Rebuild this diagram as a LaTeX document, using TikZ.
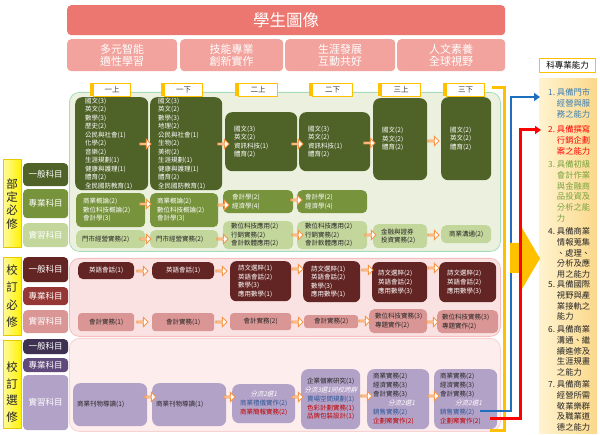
\documentclass[tikz,border=0pt]{standalone}
\usepackage{fontspec}
\setmainfont{Noto Sans CJK TC}
\newfontfamily\slfont{Noto Sans CJK TC}[FakeSlant=0.25]
\usetikzlibrary{shapes.arrows,arrows.meta}
\definecolor{hdrred}{HTML}{EC7770}
\definecolor{subred}{HTML}{F2A39D}
\definecolor{ggd}{HTML}{4F6228}
\definecolor{ggm}{HTML}{77933C}
\definecolor{ggl}{HTML}{C3D69B}
\definecolor{gpan}{HTML}{EBF1DE}
\definecolor{gpanb}{HTML}{A6DDB8}
\definecolor{rrd}{HTML}{632523}
\definecolor{rrm}{HTML}{953735}
\definecolor{rrl}{HTML}{D99694}
\definecolor{rpan}{HTML}{FBE2E2}
\definecolor{rpanb}{HTML}{F5BDBD}
\definecolor{rpantwo}{HTML}{FDEDED}
\definecolor{rpantwob}{HTML}{F8D3D3}
\definecolor{ppd}{HTML}{3F3151}
\definecolor{ppm}{HTML}{604A7B}
\definecolor{ppl}{HTML}{B3A2C7}
\definecolor{ybar}{HTML}{FFF200}
\definecolor{ybarl}{HTML}{FFFA99}
\definecolor{ybarb}{HTML}{E8C800}
\definecolor{ytab}{HTML}{FFC000}
\definecolor{arrorg}{HTML}{F79646}
\definecolor{ablue}{HTML}{1F6FBF}
\definecolor{ared}{HTML}{FF0000}
\definecolor{tblue}{HTML}{2F5597}
\definecolor{tred}{HTML}{C00000}
\definecolor{kblue}{HTML}{3A7DB5}
\definecolor{kgreen}{HTML}{76A33F}
\definecolor{kdark}{HTML}{262626}
\definecolor{colL}{HTML}{FFF3CF}
\definecolor{colR}{HTML}{FBD88A}
\tikzset{
  bx/.style={rounded corners=5pt, inner sep=0pt, anchor=north west, draw=none},
  tt/.style={inner sep=0pt, align=left, font=\fontsize{6.5}{8.5}\selectfont},
  ttn/.style={inner sep=0pt, align=left, font=\fontsize{6.5}{9}\selectfont},
  wt/.style={tt, text=white},
  dk/.style={tt, text=kdark},
  cat/.style={bx, rounded corners=4pt, text=white, font=\fontsize{8.5}{10}\selectfont},
  vbar/.style={bx, rounded corners=0pt, left color=ybarl, right color=ybar, draw=ybarb, line width=0.8pt},
  vtxt/.style={inner sep=0pt, align=center, text=kdark},
  tabbox/.style={bx, rounded corners=0pt, fill=white, draw=ytab, line width=1pt, font=\fontsize{7.5}{9}\selectfont, text=black!75},
  barrow/.style={single arrow, draw=arrorg, fill=white, line width=0.9pt, minimum height=11pt, minimum width=9pt, single arrow head extend=2pt, inner sep=0pt},
  klist/.style={inner sep=0pt, align=left, anchor=north west, font=\fontsize{8.3}{10.7}\selectfont},
  sub/.style={bx, rounded corners=4pt, fill=subred, text=white, align=center, font=\fontsize{11}{12.5}\selectfont},
}
\newcommand\mkbox[6]{\node[#1, minimum width={#4-#2}, minimum height={#5-#3}] (#6) at (#2,#3) {};}
\newcommand\mkboxc[7]{\node[#1, minimum width={#4-#2}, minimum height={#5-#3}, align=center] (#6) at (#2,#3) {#7};}
\newcommand\mktxt[5]{\node[#1, anchor=west] (#2) at (#3,0 |- #4.center) {#5};}
\newcommand\mktab[4]{\fill[ytab] ({#1-3},83) rectangle (#2,96);
  \node[tabbox, minimum width={#2-#1}, minimum height=13] (#3) at (#1,83) {#4};}
\begin{document}
\begin{tikzpicture}[x=1pt,y=-1pt]
\useasboundingbox (0,0) rectangle (600,435);
% header
\node[bx, rounded corners=4pt, fill=hdrred, minimum width=438, minimum height=30, text=white, font=\fontsize{16.5}{18}\selectfont] (title) at (67,5) {學生圖像};
\mkboxc{sub}{67}{39}{177}{71}{h1}{多元智能\\適性學習}
\mkboxc{sub}{180}{39}{283}{71}{h2}{技能專業\\創新實作}
\mkboxc{sub}{285}{39}{395}{71}{h3}{生涯發展\\互動共好}
\mkboxc{sub}{397}{39}{505}{71}{h4}{人文素養\\全球視野}
% panels
\mkbox{bx, rounded corners=10pt, fill=gpan, draw=gpanb, line width=0.8pt}{69}{92}{500}{251}{pan1}
\mkbox{bx, rounded corners=10pt, fill=rpan, draw=rpanb, line width=0.8pt}{69}{258}{500}{336}{pan2}
\mkbox{bx, rounded corners=10pt, fill=rpantwo, draw=rpantwob, line width=0.8pt}{69}{338}{500}{431}{pan3}
% vertical bars
\mkbox{vbar}{3}{159}{21}{247}{vb1}
\node[vtxt, font=\fontsize{11.5}{13.3}\selectfont] (vt1) at (12,203.7) {部\\定\\必\\修};
\mkbox{vbar}{3}{257}{21}{335}{vb2}
\node[vtxt, font=\fontsize{11.5}{17.3}\selectfont] (vt2) at (12,296) {校\\訂\\必\\修};
\mkbox{vbar}{3}{340}{21}{428}{vb3}
\node[vtxt, font=\fontsize{11.5}{16.8}\selectfont] (vt3) at (12,392) {校\\訂\\選\\修};
% category labels
\mkboxc{cat, fill=ggd}{23}{163}{68}{186}{c11}{一般科目}
\mkboxc{cat, fill=ggm}{23}{189}{68}{218}{c12}{專業科目}
\mkboxc{cat, fill=ggl}{23}{223}{68}{247}{c13}{實習科目}
\mkboxc{cat, fill=rrd}{23}{257}{68}{282}{c21}{一般科目}
\mkboxc{cat, fill=rrm}{23}{287}{68}{305}{c22}{專業科目}
\mkboxc{cat, fill=rrl}{23}{310}{68}{333}{c23}{實習科目}
\mkboxc{cat, fill=ppd}{23}{339}{68}{354}{c31}{一般科目}
\mkboxc{cat, fill=ppm}{23}{358}{68}{372}{c32}{專業科目}
\mkboxc{cat, fill=ppl}{23}{375}{68}{430}{c33}{實習科目}
% tabs
\mktab{93}{130}{t1}{一上}
\mktab{164}{202}{t2}{一下}
\mktab{238}{277}{t3}{二上}
\mktab{312}{352}{t4}{二下}
\mktab{381}{420}{t5}{三上}
\mktab{446}{484}{t6}{三下}
% 部定 general
\mkbox{bx, rounded corners=7pt, fill=ggd}{75}{97}{148}{190}{g1}
\mktxt{wt}{g1t}{85}{g1}{國文(3)\\英文(2)\\數學(3)\\歷史(2)\\公民與社會(1)\\化學(2)\\音樂(2)\\生涯規劃(1)\\健康與護理(1)\\體育(2)\\全民國防教育(1)}
\mkbox{bx, rounded corners=7pt, fill=ggd}{150}{97}{222}{190}{g2}
\mktxt{wt}{g2t}{158}{g2}{國文(3)\\英文(2)\\數學(3)\\地理(2)\\公民與社會(1)\\生物(2)\\美術(2)\\生涯規劃(1)\\健康與護理(1)\\體育(2)\\全民國防教育(1)}
\mkbox{bx, rounded corners=7pt, fill=ggd}{225}{112}{297}{171}{g3}
\mktxt{wt}{g3t}{234}{g3}{國文(3)\\英文(2)\\資訊科技(1)\\體育(2)}
\mkbox{bx, rounded corners=7pt, fill=ggd}{299}{112}{370}{171}{g4}
\mktxt{wt}{g4t}{308}{g4}{國文(3)\\英文(2)\\資訊科技(1)\\體育(2)}
\mkbox{bx, rounded corners=7pt, fill=ggd}{373}{98}{427}{180}{g5}
\mktxt{wt}{g5t}{382}{g5}{國文(2)\\英文(2)\\體育(2)}
\mkbox{bx, rounded corners=7pt, fill=ggd}{441}{97}{491}{180}{g6}
\mktxt{wt}{g6t}{450}{g6}{國文(2)\\英文(2)\\體育(2)}
% 部定 professional
\mkbox{bx, fill=ggm}{76}{193}{145}{227}{p1}
\mktxt{wt}{p1t}{83}{p1}{商業概論(2)\\數位科技概論(2)\\會計學(3)}
\mkbox{bx, fill=ggm}{150}{193}{218}{227}{p2}
\mktxt{wt}{p2t}{157}{p2}{商業概論(2)\\數位科技概論(2)\\會計學(3)}
\mkbox{bx, fill=ggm}{223}{190}{293}{213}{p3}
\mktxt{wt}{p3t}{232}{p3}{會計學(2)\\經濟學(4)}
\mkbox{bx, fill=ggm}{297}{190}{367}{213}{p4}
\mktxt{wt}{p4t}{305}{p4}{會計學(2)\\經濟學(4)}
% 部定 practice
\mkbox{bx, fill=ggl}{76}{230}{145}{248}{s1}
\mktxt{dk}{s1t}{82}{s1}{門市經營實務(2)}
\mkbox{bx, fill=ggl}{150}{230}{218}{248}{s2}
\mktxt{dk}{s2t}{156}{s2}{門市經營實務(2)}
\mkbox{bx, fill=ggl}{223}{221}{293}{249}{s3}
\mktxt{dk}{s3t}{231}{s3}{數位科技應用(2)\\行銷實務(2)\\會計軟體應用(2)}
\mkbox{bx, fill=ggl}{297}{221}{367}{249}{s4}
\mktxt{dk}{s4t}{305}{s4}{數位科技應用(2)\\行銷實務(2)\\會計軟體應用(2)}
\mkbox{bx, fill=ggl}{373}{224}{427}{248}{s5}
\mktxt{dk}{s5t}{381}{s5}{金融與證券\\投資實務(2)}
\mkboxc{bx, fill=ggl, font=\fontsize{6.5}{8.5}\selectfont, text=kdark}{441}{225}{491}{243}{s6}{商業溝通(2)}
% 校訂必修 general
\mkboxc{bx, fill=rrd, font=\fontsize{6.5}{8.5}\selectfont, text=white}{78}{262}{134}{279}{r1}{英語會話(1)}
\mkboxc{bx, fill=rrd, font=\fontsize{6.5}{8.5}\selectfont, text=white}{152}{262}{214}{279}{r2}{英語會話(1)}
\mkbox{bx, rounded corners=6pt, fill=rrd}{230}{261}{291}{301}{r3}
\mktxt{wt}{r3t}{238}{r3}{詩文選粹(1)\\英語會話(2)\\數學(3)\\應用數學(1)}
\mkbox{bx, rounded corners=6pt, fill=rrd}{303}{261}{360}{302}{r4}
\mktxt{wt}{r4t}{311}{r4}{詩文選粹(1)\\英語會話(2)\\數學(3)\\應用數學(1)}
\mkbox{bx, rounded corners=6pt, fill=rrd}{372}{262}{427}{302}{r5}
\mktxt{ttn, text=white}{r5t}{378}{r5}{詩文選粹(2)\\英語會話(2)\\應用數學(3)}
\mkbox{bx, rounded corners=6pt, fill=rrd}{439}{262}{496}{302}{r6}
\mktxt{ttn, text=white}{r6t}{447}{r6}{詩文選粹(2)\\英語會話(2)\\應用數學(3)}
% 校訂必修 practice
\mkboxc{bx, rounded corners=3pt, fill=rrl, font=\fontsize{6.5}{8.5}\selectfont, text=kdark}{78}{313}{134}{331}{q1}{會計實務(1)}
\mkboxc{bx, rounded corners=3pt, fill=rrl, font=\fontsize{6.5}{8.5}\selectfont, text=kdark}{152}{313}{214}{331}{q2}{會計實務(1)}
\mkboxc{bx, rounded corners=3pt, fill=rrl, font=\fontsize{6.5}{8.5}\selectfont, text=kdark}{230}{313}{291}{330}{q3}{會計實務(2)}
\mkboxc{bx, rounded corners=3pt, fill=rrl, font=\fontsize{6.5}{8.5}\selectfont, text=kdark}{304}{315}{358}{328}{q4}{會計實務(2)}
\mkbox{bx, fill=rrl}{369}{309}{427}{333}{q5}
\mktxt{ttn, text=kdark}{q5t}{375}{q5}{數位科技實務(3)\\專題實作(2)}
\mkbox{bx, fill=rrl}{437}{310}{498}{333}{q6}
\mktxt{ttn, text=kdark}{q6t}{442}{q6}{數位科技實務(3)\\專題實作(2)}
% 校訂選修 practice
\mkbox{bx, rounded corners=7pt, fill=ppl}{73}{383}{147}{426}{e1}
\mktxt{dk}{e1t}{77}{e1}{商業刊物導讀(1)}
\mkbox{bx, rounded corners=7pt, fill=ppl}{152}{383}{226}{426}{e2}
\mktxt{dk}{e2t}{156}{e2}{商業刊物導讀(1)}
\mkboxc{bx, rounded corners=7pt, fill=ppl, font=\fontsize{6.5}{9}\selectfont, text=kdark}{232}{384}{295}{423}{e3}{{\slfont\color{white}分流2選1}\\\textcolor{tblue}{商業禮儀實作(2)}\\\textcolor{tred}{商業簡報實務(2)}}
\mkboxc{bx, rounded corners=7pt, fill=ppl, font=\fontsize{6.5}{8.8}\selectfont, text=kdark}{301}{369}{360}{429}{e4}{企業個案研究(1)\\{\slfont\color{white}分流3選1同校跨群}\\\textcolor{tblue}{賣場空間規劃(1)}\\\textcolor{tred}{色彩計劃實務(1)}\\\textcolor{tred}{品牌包裝設計(1)}}
\mkbox{bx, rounded corners=7pt, fill=ppl}{367}{369}{429}{429}{e5}
\mktxt{ttn, text=kdark}{e5t}{373}{e5}{商業實務(2)\\經濟實務(3)\\會計實務(3)\\\hspace*{15pt}{\slfont\color{white}分流2選1}\\\textcolor{tblue}{銷售實務(2)}\\\textcolor{tred}{企劃案實作(2)}}
\mkbox{bx, rounded corners=7pt, fill=ppl}{434}{369}{497}{429}{e6}
\mktxt{ttn, text=kdark}{e6t}{440}{e6}{商業實務(2)\\經濟實務(3)\\會計實務(3)\\\hspace*{15pt}{\slfont\color{white}分流2選1}\\\textcolor{tblue}{銷售實務(2)}\\\textcolor{tred}{企劃案實作(2)}}
% block arrows
\foreach \n/\x/\y in {a11/145/144,a12/223/144,a13/297/144,a14/369/143,a15/433/141,
  a21/145/204,a22/223/205,a23/296/200,
  a31/145/239,a32/222/239,a33/297/235,a34/370/235,a35/433/235,
  b11/142/271,b12/221/271,b13/297/269,b14/367/270,b15/433/268,
  b31/142/322,b32/221/322,b33/297/322,b34/364/321,b35/432/322,
  c31/150/397,c32/229/397,c33/297/397,c34/366/396,c35/433/396}
  {\node[barrow] (\n) at (\x,\y) {};}
% competence column
\node[bx, rounded corners=0pt, fill=white, draw=ytab, line width=1pt, minimum width=56, minimum height=14, font=\fontsize{8.5}{10}\selectfont] (kh) at (539,58) {科專業能力};
\node[bx, rounded corners=0pt, left color=colL, right color=colR, minimum width=58, minimum height=355] (kcol) at (539,78) {};
\node[klist, text=kblue] (k1) at (548,88.5) {1.~具備門市\\\phantom{1.~}經營與服\\\phantom{1.~}務之能力};
\node[klist, text=ared] (k2) at (548,125.5) {2.~具備撰寫\\\phantom{2.~}行銷企劃\\\phantom{2.~}案之能力};
\node[klist, text=kgreen] (k3) at (548,160.5) {3.~具備初級\\\phantom{3.~}會計作業\\\phantom{3.~}與金融商\\\phantom{3.~}品投資及\\\phantom{3.~}分析之能\\\phantom{3.~}力};
\node[klist, text=kdark] (k4) at (548,227.5) {4.~具備商業\\\phantom{4.~}情報蒐集\\\phantom{4.~}、處理、\\\phantom{4.~}分析及應\\\phantom{4.~}用之能力};
\node[klist, text=kdark] (k5) at (548,280.5) {5.~具備國際\\\phantom{5.~}視野與產\\\phantom{5.~}業接軌之\\\phantom{5.~}能力};
\node[klist, text=kdark] (k6) at (548,325.5) {6.~具備商業\\\phantom{6.~}溝通、繼\\\phantom{6.~}續進修及\\\phantom{6.~}生涯規畫\\\phantom{6.~}之能力};
\node[klist, text=kdark] (k7) at (548,380.5) {7.~具備商業\\\phantom{7.~}經營所需\\\phantom{7.~}敬業樂群\\\phantom{7.~}及職業道\\\phantom{7.~}德之能力};
% connectors
\coordinate (ya) at (492,88); \coordinate (yb) at (504,88);
\coordinate (yc) at (504,431); \coordinate (yd) at (490,431);
\draw[ytab, line width=3pt] (ya) -- (yb) -- (yc) -- (yd);
\coordinate (bs) at (480,411); \coordinate (bc) at (511,411); \coordinate (k1in) at (540,97);
\draw[ablue, line width=2.5pt, -{Triangle[length=6pt,width=8pt]}] (bs) -- (bc) |- (k1in);
\fill[ytab] (510,243) -- (522,243) -- (522,228) -- (540,258.5) -- (522,289) -- (522,273) -- (510,273) -- cycle;
\coordinate (rs) at (490,419); \coordinate (rc) at (520,419); \coordinate (k2in) at (541,130);
\draw[ared, line width=3pt, -{Triangle[length=6pt,width=8pt]}] (rs) -- (rc) |- (k2in);
\end{tikzpicture}
\end{document}
